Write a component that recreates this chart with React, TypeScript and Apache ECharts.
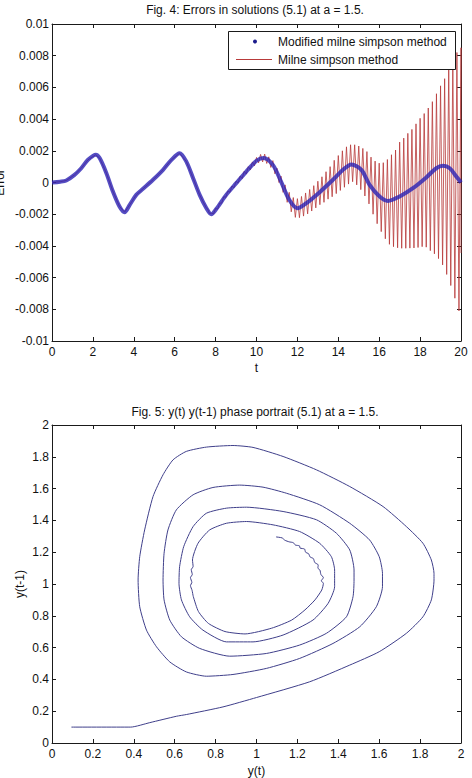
import React, { useEffect, useRef } from "react";
import * as echarts from "echarts";

const FONT = "'Liberation Sans', Arial, Helvetica, sans-serif";

// ---------- Fig. 4 data (errors in units of 1e-3) ----------
const tTicks = [0, 2, 4, 6, 8, 10, 12, 14, 16, 18, 20];
const modT = [0, 0.4, 0.7, 1.1, 1.43, 1.76, 2.14, 2.33, 2.66, 2.98, 3.3, 3.55, 3.8, 4.12, 4.45, 4.94, 5.43, 5.84, 6.24, 6.57, 6.9, 7.22, 7.55, 7.79, 8.04, 8.52, 9.01, 9.5, 10.0, 10.35, 10.8, 11.2, 11.6, 12.0, 12.44, 13.09, 13.74, 14.23, 14.64, 15.13, 15.53, 16.02, 16.43, 17.0, 17.65, 18.3, 18.79, 19.12, 19.45, 19.77, 20];
const modErrMilli = [0, 0.05, 0.13, 0.48, 0.9, 1.43, 1.75, 1.54, 0.59, -0.57, -1.51, -1.87, -1.41, -0.78, -0.4, 0.17, 0.8, 1.43, 1.85, 1.32, 0.27, -0.78, -1.62, -2.0, -1.66, -0.78, -0.04, 0.69, 1.37, 1.55, 1.11, 0.06, -1.09, -1.62, -1.3, -0.61, 0.17, 0.8, 1.14, 0.8, -0.15, -0.88, -1.16, -0.88, -0.36, 0.32, 0.9, 1.05, 0.9, 0.38, 0];

// Milne simpson: coincides with the modified method up to t = 7.55, then swings
const milneSwingStartT = 7.6;
const milneSwingStepT = 0.1;
const milneSwingMilli = [
  -1.65, -1.95, -1.94, -1.98, -1.64, -1.68, -1.3, -1.3, -0.9, -0.93,
  -0.54, -0.62, -0.22, -0.33, 0.08, -0.04, 0.4, 0.25, 0.71, 0.53,
  1.0, 0.8, 1.3, 1.05, 1.58, 1.24, 1.77, 1.3, 1.79, 1.2,
  1.62, 0.95, 1.38, 0.55, 0.9, 0.0, 0.4, -0.62, -0.15, -1.25,
  -0.62, -1.85, -0.95, -2.2, -1.02, -2.22, -0.88, -2.12, -0.66, -1.98,
  -0.44, -1.8, -0.2, -1.6, 0.08, -1.4, 0.36, -1.25, 0.68, -1.05,
  1.0, -0.9, 1.4, -0.7, 1.7, -0.5, 2.0, -0.3, 2.25, -0.1,
  2.38, 0.05, 2.38, -0.15, 2.3, -0.45, 2.15, -0.85, 1.95, -1.35,
  1.6, -2.0, 1.35, -2.6, 1.22, -3.1, 1.25, -3.55, 1.45, -3.9,
  1.75, -4.05, 2.05, -4.12, 2.55, -4.15, 2.8, -4.15, 3.1, -4.14,
  3.35, -4.13, 3.7, -4.1, 4.05, -4.05, 4.35, -4.08, 4.7, -4.3,
  5.1, -4.5, 5.6, -4.8, 6.1, -5.2, 6.55, -5.8, 7.2, -6.5,
  7.7, -7.3, 8.2, -8.1, 8.5,
];
const milneFinal = [20, -4.45];

// ---------- Fig. 5 data (phase portrait) ----------
const phaseX = [0.095, 0.385, 0.478, 0.608, 0.657, 0.836, 1.0, 1.26, 1.456, 1.6, 1.733, 1.814, 1.855, 1.868, 1.868, 1.855, 1.814, 1.733, 1.619, 1.456, 1.293, 1.13, 0.983, 0.885, 0.755, 0.657, 0.592, 0.543, 0.494, 0.453, 0.429, 0.421, 0.429, 0.462, 0.511, 0.576, 0.657, 0.755, 0.885, 1.048, 1.211, 1.374, 1.505, 1.586, 1.616, 1.616, 1.6, 1.553, 1.456, 1.309, 1.146, 1.032, 0.918, 0.787, 0.69, 0.608, 0.567, 0.548, 0.543, 0.548, 0.576, 0.633, 0.722, 0.869, 1.048, 1.211, 1.342, 1.44, 1.472, 1.477, 1.477, 1.456, 1.391, 1.293, 1.13, 0.951, 0.853, 0.755, 0.69, 0.644, 0.624, 0.621, 0.633, 0.673, 0.738, 0.853, 0.983, 1.13, 1.276, 1.35, 1.382, 1.382, 1.366, 1.309, 1.211, 1.081, 0.951, 0.853, 0.771, 0.714, 0.687, 0.69, 0.681, 0.686, 0.677, 0.684, 0.677, 0.685, 0.691, 0.716, 0.765, 0.846, 0.944, 1.074, 1.172, 1.237, 1.286, 1.319, 1.327, 1.317, 1.327, 1.315, 1.31, 1.3, 1.302, 1.285, 1.278, 1.262, 1.255, 1.24, 1.235, 1.213, 1.21, 1.19, 1.18, 1.16, 1.139, 1.125, 1.096];
const phaseY = [0.1, 0.1, 0.128, 0.168, 0.179, 0.227, 0.286, 0.385, 0.49, 0.574, 0.69, 0.794, 0.9, 1.025, 1.067, 1.151, 1.256, 1.361, 1.487, 1.613, 1.718, 1.802, 1.859, 1.871, 1.861, 1.834, 1.781, 1.687, 1.55, 1.34, 1.172, 1.025, 0.857, 0.71, 0.605, 0.51, 0.447, 0.42, 0.431, 0.469, 0.532, 0.626, 0.731, 0.857, 0.983, 1.067, 1.172, 1.277, 1.382, 1.498, 1.571, 1.609, 1.622, 1.607, 1.561, 1.466, 1.34, 1.193, 1.025, 0.9, 0.773, 0.668, 0.595, 0.546, 0.563, 0.616, 0.69, 0.794, 0.92, 1.025, 1.088, 1.214, 1.319, 1.404, 1.456, 1.483, 1.477, 1.445, 1.361, 1.235, 1.109, 1.004, 0.9, 0.794, 0.71, 0.636, 0.636, 0.679, 0.773, 0.878, 0.983, 1.088, 1.172, 1.256, 1.33, 1.372, 1.393, 1.382, 1.34, 1.256, 1.151, 1.11, 1.09, 1.06, 1.04, 1.01, 0.99, 0.96, 0.921, 0.827, 0.752, 0.701, 0.686, 0.722, 0.773, 0.837, 0.9, 0.962, 1.004, 1.02, 1.04, 1.06, 1.088, 1.1, 1.12, 1.135, 1.16, 1.17, 1.19, 1.2, 1.22, 1.226, 1.24, 1.245, 1.26, 1.265, 1.275, 1.29, 1.296];

const TITLE4 = "Fig. 4: Errors in solutions (5.1) at a = 1.5.";
const TITLE5 = "Fig. 5: y(t) y(t-1) phase portrait (5.1) at a = 1.5.";
const LEGEND = ["Modified milne simpson method", "Milne simpson method"];

export default function App() {
  const ref = useRef<HTMLDivElement>(null);

  useEffect(() => {
    if (!ref.current) return;
    const chart = echarts.init(ref.current, undefined, { renderer: "svg" });

    const modData = modT.map((t, i) => [t, modErrMilli[i]]);
    const milneData: number[][] = [];
    modT.forEach((t, i) => {
      if (t < milneSwingStartT) milneData.push([t, modErrMilli[i]]);
    });
    milneSwingMilli.forEach((v, i) => {
      milneData.push([Math.round((milneSwingStartT + i * milneSwingStepT) * 10) / 10, v]);
    });
    milneData.push(milneFinal);
    const phaseData = phaseX.map((x, i) => [x, phaseY[i]]);

    const lineC = "#1a1a1a";
    const axisBase = (extra: any) => ({
      type: "value",
      splitLine: { show: false },
      axisLine: { show: true, onZero: false, lineStyle: { color: lineC, width: 1 } },
      axisTick: { show: true, inside: true, length: 4, lineStyle: { color: lineC, width: 1 } },
      axisLabel: { color: "#111", fontSize: 12, fontFamily: FONT, margin: 5 },
      nameTextStyle: { color: "#111", fontSize: 12, fontFamily: FONT },
      nameMoveOverlap: false,
      ...extra,
    });
    const noLabel = { axisLabel: { show: false } };

    chart.setOption({
      animation: false,
      textStyle: { fontFamily: FONT },
      grid: [
        { left: 52, top: 24, width: 409, height: 317, containLabel: false, outerBoundsMode: "none" },
        { left: 52, top: 425, width: 409, height: 318, containLabel: false, outerBoundsMode: "none" },
      ],
      xAxis: [
        axisBase({ gridIndex: 0, min: tTicks[0], max: tTicks[tTicks.length - 1], interval: 2, name: "t", nameLocation: "middle", nameGap: 21 }),
        axisBase({ gridIndex: 0, position: "top", min: 0, max: 20, interval: 2, ...noLabel }),
        axisBase({ gridIndex: 1, min: 0, max: 2, interval: 0.2, name: "y(t)", nameLocation: "middle", nameGap: 22 }),
        axisBase({ gridIndex: 1, position: "top", min: 0, max: 2, interval: 0.2, ...noLabel }),
      ],
      yAxis: [
        axisBase({
          gridIndex: 0, min: -10, max: 10, interval: 2, name: "Error", nameLocation: "middle", nameGap: 46,
          axisLabel: { color: "#111", fontSize: 12, fontFamily: FONT, margin: 3, formatter: (v: number) => String(+(v / 1000).toFixed(3)) },
        }),
        axisBase({ gridIndex: 0, position: "right", min: -10, max: 10, interval: 2, ...noLabel }),
        axisBase({ gridIndex: 1, min: 0, max: 2, interval: 0.2, name: "y(t-1)", nameLocation: "middle", nameGap: 26, axisLabel: { color: "#111", fontSize: 12, fontFamily: FONT, margin: 3 } }),
        axisBase({ gridIndex: 1, position: "right", min: 0, max: 2, interval: 0.2, ...noLabel }),
      ],
      series: [
        {
          name: LEGEND[0], type: "line", xAxisIndex: 0, yAxisIndex: 0, data: modData,
          smooth: 0.3, showSymbol: false, z: 3,
          lineStyle: { color: "#2a22b4", width: 4, opacity: 0.8 },
        },
        {
          name: LEGEND[1], type: "line", xAxisIndex: 0, yAxisIndex: 0, data: milneData,
          showSymbol: false, z: 2,
          lineStyle: { color: "#b83a3a", width: 0.8 },
        },
        {
          name: "phase", type: "line", xAxisIndex: 2, yAxisIndex: 2, data: phaseData,
          smooth: 0.2, showSymbol: false,
          lineStyle: { color: "#3f3f8a", width: 1 },
        },
      ],
      graphic: [
        { type: "text", x: 255, y: 10, style: { text: TITLE4, fill: "#111", font: `12px ${FONT}`, align: "center", verticalAlign: "middle" } },
        { type: "text", x: 255, y: 412, style: { text: TITLE5, fill: "#111", font: `12px ${FONT}`, align: "center", verticalAlign: "middle" } },
        { type: "rect", z: 100, shape: { x: 228.5, y: 31.5, width: 227, height: 38 }, style: { fill: "#fff", stroke: "#1a1a1a", lineWidth: 1 } },
        { type: "circle", z: 101, shape: { cx: 255, cy: 41.5, r: 2 }, style: { fill: "#1c1c8c" } },
        { type: "line", z: 101, shape: { x1: 236, y1: 59.5, x2: 272, y2: 59.5 }, style: { stroke: "#b83a3a", lineWidth: 1 } },
        { type: "text", z: 101, x: 278, y: 42, style: { text: LEGEND[0], fill: "#111", font: `12px ${FONT}`, verticalAlign: "middle" } },
        { type: "text", z: 101, x: 278, y: 60, style: { text: LEGEND[1], fill: "#111", font: `12px ${FONT}`, verticalAlign: "middle" } },
      ],
    });

    return () => chart.dispose();
  }, []);

  return (
    <div
      ref={ref}
      style={{ position: "absolute", left: 0, top: 0, width: 472, height: 778, background: "#fff" }}
    />
  );
}
